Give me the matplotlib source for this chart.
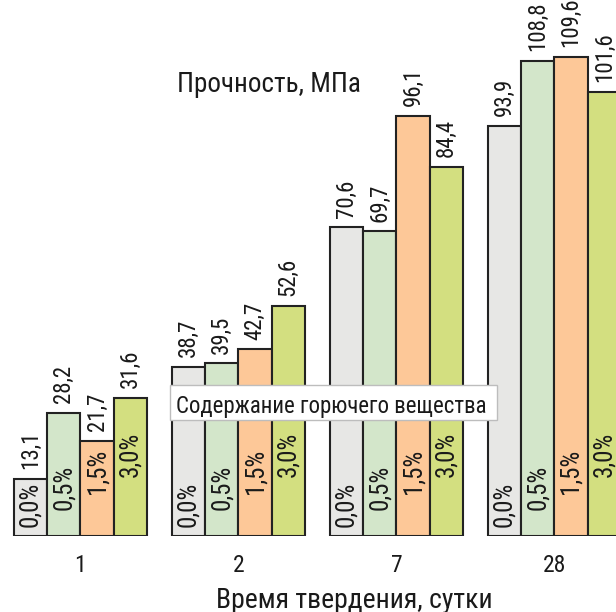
import matplotlib
matplotlib.use("Agg")
import matplotlib.pyplot as plt
from matplotlib.patches import Rectangle
import numpy as np

plt.rcParams['font.family'] = ['Roboto Condensed', 'DejaVu Sans']

# Curing time groups (days)
days = ["1", "2", "7", "28"]
# Combustible additive content, one series per content level
contents = ["0,0%", "0,5%", "1,5%", "3,0%"]
strength_00 = [13.1, 38.7, 70.6, 93.9]
strength_05 = [28.2, 39.5, 69.7, 108.8]
strength_15 = [21.7, 42.7, 96.1, 109.6]
strength_30 = [31.6, 52.6, 84.4, 101.6]
series = [strength_00, strength_05, strength_15, strength_30]
colors = ["#e7e7e5", "#d3e6ca", "#fdc898", "#d3df80"]

W, H = 616, 612
fig = plt.figure(figsize=(W / 100, H / 100), dpi=100)

# axes deliberately run past the right edge of the canvas
base_px = 76
ax = fig.add_axes([0, base_px / H, 800 / W, (H - base_px) / H])
group_px = 158.0
first_center_px = 80.4
x0 = -first_center_px / group_px
ax.set_xlim(x0, x0 + 800 / group_px)
ax.set_ylim(0, (H - base_px) / 4.37)

bw = 33.2 / group_px
x = np.arange(len(days))
for i, (vals, col, lab) in enumerate(zip(series, colors, contents)):
    xs = x + (i - 1.5) * bw
    ax.bar(xs, vals, width=bw, color=col, edgecolor="#222222",
           linewidth=1.5, zorder=2)
    for xi, v in zip(xs, vals):
        ax.annotate(f"{v:.1f}".replace(".", ","), (xi, v), xytext=(0, 7),
                    textcoords="offset points", rotation=90, ha="center",
                    va="bottom", fontsize=16.5, color="#1a1a1a", zorder=5)
        ax.annotate(lab, (xi, 0), xytext=(0, 6.5 + 12 * i),
                    textcoords="offset points", rotation=90, ha="center",
                    va="bottom", fontsize=18, color="#1a1a1a", zorder=5)

ax.set_xticks(x)
ax.set_xticklabels(days, fontsize=17, color="#1a1a1a")
ax.tick_params(axis="x", length=0, pad=13)
ax.set_yticks([])
for s in ax.spines.values():
    s.set_visible(False)

# caption box overlaying the bars
fig.add_artist(Rectangle((170 / W, (H - 420) / H), 327 / W, 35 / H,
                         transform=fig.transFigure, facecolor="white",
                         edgecolor="#bdbdbd", linewidth=1, zorder=10))
fig.text(331.5 / W, (H - 412.5) / H, "Содержание горючего вещества",
         ha="center", va="baseline", fontsize=16.5, color="#1a1a1a", zorder=11)

fig.text(268.5 / W, (H - 91.7) / H, "Прочность, МПа", ha="center",
         va="baseline", fontsize=19.5, color="#1a1a1a")
fig.text(354 / W, (H - 608.3) / H, "Время твердения, сутки", ha="center",
         va="baseline", fontsize=20, color="#1a1a1a")

fig.savefig("out.png", dpi=100)
